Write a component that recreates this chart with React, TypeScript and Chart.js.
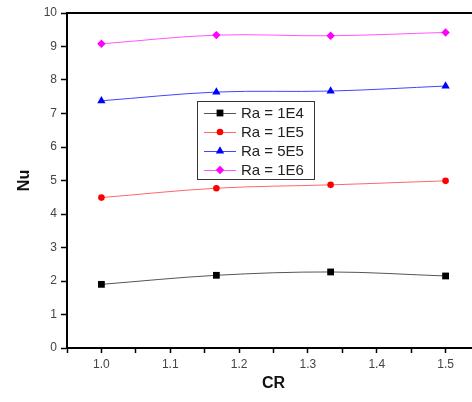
import React, { useEffect, useRef } from "react";
import { Chart, registerables } from "chart.js";

Chart.register(...registerables);

const crValues = [1.0, 1.167, 1.333, 1.5];
const nuRa1E4 = [1.9, 2.17, 2.27, 2.15];
const nuRa1E5 = [4.49, 4.77, 4.87, 4.99];
const nuRa5E5 = [7.38, 7.64, 7.67, 7.82];
const nuRa1E6 = [9.08, 9.34, 9.32, 9.42];
const seriesLabels = ["Ra = 1E4", "Ra = 1E5", "Ra = 5E5", "Ra = 1E6"];
const seriesColors = ["#000000", "#ff0000", "#0000ff", "#ff00ff"];
const lineColors = ["#555555", "#ff6666", "#4444ff", "#ff55ff"];
const pointStyles = ["rect", "circle", "triangle", "rectRot"];
const pointRadii = [4.8, 3.3, 4.8, 4.2];

const FONT = "'Liberation Sans', Arial, sans-serif";

function drawMarker(ctx: CanvasRenderingContext2D, style: string, r: number, x: number, y: number) {
  ctx.beginPath();
  if (style === "rect") {
    const s = r * Math.SQRT1_2;
    ctx.rect(x - s, y - s, 2 * s, 2 * s);
  } else if (style === "circle") {
    ctx.arc(x, y, r, 0, Math.PI * 2);
  } else if (style === "triangle") {
    ctx.moveTo(x, y - r);
    ctx.lineTo(x + r * 0.866, y + r * 0.5);
    ctx.lineTo(x - r * 0.866, y + r * 0.5);
    ctx.closePath();
  } else {
    ctx.moveTo(x, y - r);
    ctx.lineTo(x + r, y);
    ctx.lineTo(x, y + r);
    ctx.lineTo(x - r, y);
    ctx.closePath();
  }
  ctx.fill();
}

const legendPlugin = {
  id: "boxLegend",
  afterDatasetsDraw(chart: any) {
    const ctx = chart.ctx;
    const x0 = 197, y0 = 101, w = 117, h = 78;
    ctx.save();
    ctx.fillStyle = "#ffffff";
    ctx.fillRect(x0, y0, w, h);
    ctx.strokeStyle = "#333333";
    ctx.lineWidth = 1;
    ctx.strokeRect(x0 + 0.5, y0 + 0.5, w, h);
    const rows = [113, 132, 151, 170];
    chart.data.datasets.forEach((ds: any, i: number) => {
      const y = rows[i];
      ctx.strokeStyle = ds.borderColor;
      ctx.lineWidth = 1;
      ctx.beginPath();
      ctx.moveTo(204, y + 0.5);
      ctx.lineTo(236, y + 0.5);
      ctx.stroke();
      ctx.fillStyle = ds.pointBackgroundColor;
      drawMarker(ctx, ds.pointStyle, ds.pointRadius, 220, y);
      ctx.fillStyle = "#222222";
      ctx.font = `15px ${FONT}`;
      ctx.textBaseline = "middle";
      ctx.textAlign = "left";
      ctx.fillText(ds.label, 241, y + 1);
    });
    ctx.restore();
  },
};

const topBorderPlugin = {
  id: "topBorder",
  afterDraw(chart: any) {
    const { ctx, chartArea } = chart;
    ctx.save();
    ctx.strokeStyle = "#000000";
    ctx.lineWidth = 2;
    ctx.beginPath();
    ctx.moveTo(chartArea.left - 1, chartArea.top);
    ctx.lineTo(chartArea.right + 30, chartArea.top);
    ctx.stroke();
    ctx.restore();
  },
};

export default function App() {
  const ref = useRef<HTMLCanvasElement>(null);
  useEffect(() => {
    if (!ref.current) return;
    const allSeries = [nuRa1E4, nuRa1E5, nuRa5E5, nuRa1E6];
    const chart = new Chart(ref.current, {
      type: "line",
      data: {
        datasets: allSeries.map((vals, i) => ({
          label: seriesLabels[i],
          data: crValues.map((x, j) => ({ x, y: vals[j] })),
          borderColor: lineColors[i],
          borderWidth: 1,
          pointBackgroundColor: seriesColors[i],
          pointBorderColor: seriesColors[i],
          pointBorderWidth: 0,
          pointStyle: pointStyles[i] as any,
          pointRadius: pointRadii[i],
          tension: 0.35,
          fill: false,
        })),
      },
      options: {
        animation: false,
        responsive: false,
        layout: { padding: { top: 13, right: 20, left: 0, bottom: 0 } },
        plugins: {
          legend: { display: false },
          tooltip: { enabled: false },
        },
        scales: {
          x: {
            type: "linear",
            min: 0.95,
            max: 1.55,
            afterFit: (s: any) => { s.height = 54; },
            ticks: {
              stepSize: 0.05,
              autoSkip: false,
              maxRotation: 0,
              padding: 4,
              color: "#444444",
              font: { family: FONT, size: 12 },
              callback: (v: any) => {
                const k = Math.round(Number(v) * 100);
                return k % 10 === 0 ? (k / 100).toFixed(1) : "";
              },
            },
            grid: { drawOnChartArea: false, drawTicks: true, tickLength: 5, color: "#000000", tickWidth: 1.5 },
            border: { display: true, color: "#000000", width: 2 },
            title: {
              display: true,
              text: "CR",
              color: "#111111",
              font: { family: FONT, size: 16, weight: "bold" },
              padding: { top: 0, bottom: 9 },
            },
          },
          y: {
            min: 0,
            max: 10,
            afterFit: (s: any) => { s.width = 67; },
            ticks: {
              stepSize: 1,
              padding: 4,
              color: "#444444",
              font: { family: FONT, size: 12 },
            },
            grid: { drawOnChartArea: false, drawTicks: true, tickLength: 6, color: "#000000", tickWidth: 1.5 },
            border: { display: true, color: "#000000", width: 2 },
            title: {
              display: true,
              text: "Nu",
              color: "#111111",
              font: { family: FONT, size: 16, weight: "bold" },
              padding: { top: 15, bottom: 0 },
            },
          },
        },
      },
      plugins: [legendPlugin, topBorderPlugin],
    });
    return () => chart.destroy();
  }, []);
  return (
    <div style={{ position: "fixed", left: 0, top: 0, width: 472, height: 402, overflow: "hidden", background: "#fff" }}>
      <canvas ref={ref} width={500} height={402} style={{ display: "block" }} />
    </div>
  );
}
